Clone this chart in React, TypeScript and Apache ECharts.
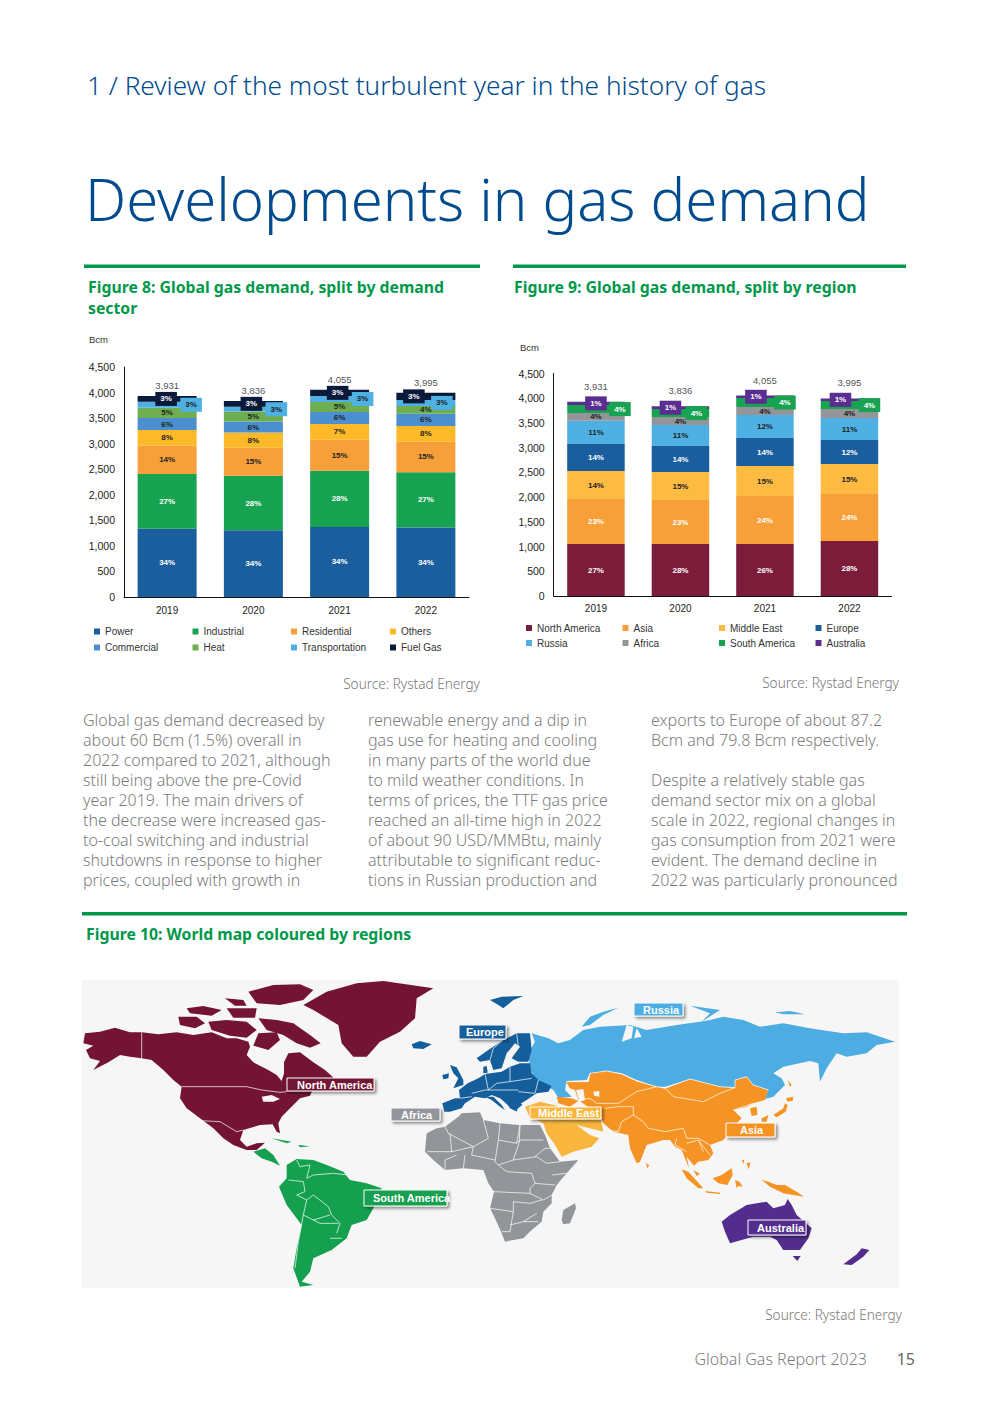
import React, { useEffect, useRef } from "react";
import * as echarts from "echarts";

const years = ["2019", "2020", "2021", "2022"];
const yTicks = [0, 500, 1000, 1500, 2000, 2500, 3000, 3500, 4000, 4500];
const totals = [3931, 3836, 4055, 3995];

const sectorNames = ["Power", "Industrial", "Residential", "Others", "Commercial", "Heat", "Transportation", "Fuel Gas"];
const power = [1337, 1304, 1370, 1358];
const industrial = [1070, 1070, 1100, 1085];
const residential = [550, 548, 605, 595];
const others = [310, 295, 310, 310];
const commercial = [235, 215, 235, 235];
const heat = [200, 195, 195, 155];
const transportation = [118, 95, 118, 118];
const fuelGas = [111, 114, 122, 139];
const sectorValues = [power, industrial, residential, others, commercial, heat, transportation, fuelGas];
const sectorPct = [
  ["34%", "34%", "34%", "34%"], ["27%", "28%", "28%", "27%"], ["14%", "15%", "15%", "15%"], ["8%", "8%", "7%", "8%"],
  ["6%", "6%", "6%", "6%"], ["5%", "5%", "5%", "4%"], ["3%", "3%", "3%", "3%"], ["3%", "3%", "3%", "3%"],
];
const sectorColors = ["#1A5E9E", "#18A353", "#F79F39", "#FDB927", "#4B8FD0", "#6FAD51", "#4FB0E3", "#0B1A3A"];
const sectorLabelColors = ["#fff", "#fff", "#222", "#222", "#222", "#222", "#222", "#fff"];

const regionNames = ["North America", "Asia", "Middle East", "Europe", "Russia", "Africa", "South America", "Australia"];
const northAmerica = [1051, 1051, 1051, 1112];
const asia = [910, 890, 971, 950];
const middleEast = [566, 566, 606, 606];
const europe = [546, 525, 566, 486];
const russia = [471, 425, 465, 444];
const africa = [156, 162, 162, 182];
const southAmerica = [161, 161, 182, 162];
const australia = [70, 56, 52, 53];
const regionValues = [northAmerica, asia, middleEast, europe, russia, africa, southAmerica, australia];
const regionPct = [
  ["27%", "28%", "26%", "28%"], ["23%", "23%", "24%", "24%"], ["14%", "15%", "15%", "15%"], ["14%", "14%", "14%", "12%"],
  ["11%", "11%", "12%", "11%"], ["4%", "4%", "4%", "4%"], ["4%", "4%", "4%", "4%"], ["1%", "1%", "1%", "1%"],
];
const regionColors = ["#7B1C3B", "#F79F39", "#FDBB42", "#1A5E9E", "#4FB0E3", "#939598", "#18A353", "#5A2D91"];
const regionLabelColors = ["#fff", "#fff", "#222", "#fff", "#222", "#222", "#fff", "#fff"];

const col1 = ["Global gas demand decreased by", "about 60 Bcm (1.5%) overall in", "2022 compared to 2021, although", "still being above the pre-Covid", "year 2019. The main drivers of", "the decrease were increased gas-", "to-coal switching and industrial", "shutdowns in response to higher", "prices, coupled with growth in"];
const col2 = ["renewable energy and a dip in", "gas use for heating and cooling", "in many parts of the world due", "to mild weather conditions. In", "terms of prices, the TTF gas price", "reached an all-time high in 2022", "of about 90 USD/MMBtu, mainly", "attributable to significant reduc-", "tions in Russian production and"];
const col3 = ["exports to Europe of about 87.2", "Bcm and 79.8 Bcm respectively.", "", "Despite a relatively stable gas", "demand sector mix on a global", "scale in 2022, regional changes in", "gas consumption from 2021 were", "evident. The demand decline in", "2022 was particularly pronounced"];

const BLUE = "#004B8D";
const GREEN = "#00984A";
const GREY = "#7C7C7C";
const UI = "'Noto Sans', sans-serif";
const AR = "'Liberation Sans', Arial, sans-serif";

// map outlines, traced in crop units (3 units per page pixel) from a crop origin
type Pts = number[][];
const O3 = [80, 975], O4 = [490, 975], O5 = [435, 990], O6 = [420, 1105], O8 = [620, 1080];
const conv = (o: number[], p: Pts) => p.map(([x, y]) => [o[0] + x / 3, o[1] + y / 3]);

const C = { na: "#731434", sa: "#14A04F", eu: "#155E9C", ru: "#4DADE2", as: "#F59324", me: "#F8B63E", af: "#92969A", au: "#532D8E", bg: "#F6F6F6" };

const shapes: [string, number[], Pts][] = [
  [C.na, O3, [[15,175],[60,170],[105,158],[150,172],[185,172],[235,178],[290,172],[340,180],[395,172],[440,190],[470,190],[505,200],[510,215],[500,240],[520,262],[565,285],[590,300],[605,318],[612,295],[612,262],[625,235],[660,232],[700,262],[735,285],[765,312],[735,322],[700,340],[690,362],[660,370],[630,400],[605,425],[595,445],[600,475],[590,470],[578,448],[540,450],[490,465],[480,495],[500,515],[530,505],[555,503],[530,525],[500,525],[460,510],[430,490],[400,460],[360,430],[320,400],[300,370],[305,335],[280,315],[250,285],[215,255],[185,250],[150,245],[120,240],[85,262],[40,285],[60,258],[30,250],[18,225],[40,212],[10,205]]],
  [C.na, O3, [[535,130],[590,135],[640,145],[690,180],[722,205],[690,218],[650,205],[610,180],[560,165]]],
  [C.na, O3, [[385,140],[440,135],[500,140],[530,165],[500,188],[450,182],[395,165]]],
  [C.na, O3, [[295,125],[350,125],[375,145],[345,160],[300,150]]],
  [C.na, O3, [[505,50],[580,30],[660,28],[700,45],[670,75],[600,90],[530,85]]],
  [C.na, O3, [[320,100],[370,93],[425,105],[395,122],[330,115]]],
  [C.na, O3, [[435,70],[490,75],[500,92],[465,92]]],
  [C.na, O3, [[440,100],[530,100],[525,128],[460,128]]],
  [C.na, O3, [[535,175],[590,172],[600,195],[565,225],[520,212]]],
  [C.na, O3, [[670,90],[740,50],[830,25],[910,18],[1060,40],[1010,70],[1005,130],[960,170],[900,200],[860,245],[820,245],[785,205],[775,150],[700,105]]],
  [C.bg, O3, [[545,365],[575,360],[600,372],[580,380],[550,380]]],
  [C.sa, O3, [[520,530],[555,520],[580,540],[600,572],[575,560],[545,550]]],
  [C.sa, O3, [[575,490],[635,500],[620,505]]],
  [C.sa, O3, [[655,510],[690,514],[660,517]]],
  [C.sa, O3, [[620,570],[650,552],[700,555],[740,570],[790,590],[810,615],[860,625],[905,640],[880,700],[860,735],[815,750],[800,790],[755,825],[700,850],[690,890],[665,920],[700,930],[660,935],[640,880],[650,820],[665,750],[620,690],[597,635],[620,610]]],
  [C.eu, O3, [[995,208],[1020,198],[1055,208],[1030,222],[1000,220]]],
  [C.ru, O4, [[125,175],[175,190],[205,205],[240,195],[280,165],[330,155],[420,150],[470,165],[560,150],[630,140],[660,135],[700,125],[760,135],[810,155],[880,145],[960,160],[1060,175],[1130,172],[1215,200],[1160,210],[1130,235],[1070,245],[1040,235],[1010,280],[990,320],[985,265],[960,258],[880,275],[850,295],[875,310],[885,330],[850,365],[825,372],[835,345],[790,330],[770,305],[735,315],[735,338],[690,335],[650,325],[600,312],[560,325],[525,335],[500,335],[440,315],[395,295],[350,288],[300,295],[290,315],[230,318],[225,345],[245,365],[205,368],[190,345],[135,310],[120,280],[115,235],[135,200]]],
  [C.ru, O4, [[275,155],[300,125],[340,110],[385,98],[340,120],[300,150]]],
  [C.ru, O4, [[600,92],[690,105],[635,140],[660,115]]],
  [C.ru, O4, [[855,112],[900,108],[945,118],[880,118]]],
  [C.bg, O4, [[395,200],[410,150],[430,155],[425,190]]],
  [C.bg, O4, [[440,160],[455,185],[432,190]]],
  [C.as, O4, [[228,320],[295,320],[300,295],[350,288],[395,297],[440,318],[500,335],[525,340],[600,312],[650,325],[690,335],[735,338],[735,315],[770,305],[790,330],[835,345],[825,375],[790,385],[770,395],[730,405],[755,430],[740,445],[700,495],[660,510],[670,535],[655,555],[625,560],[612,572],[590,545],[597,580],[575,525],[555,515],[540,495],[520,495],[470,510],[450,560],[440,565],[420,520],[415,480],[370,470],[340,445],[330,420],[300,400],[265,375],[255,345],[240,340]]],
  [C.bg, O4, [[258,345],[280,342],[285,375],[268,380]]],
  [C.bg, O4, [[310,350],[328,348],[328,365],[312,362]]],
  [C.as, O4, [[200,365],[245,370],[265,378],[240,395],[205,385]]],
  [C.me, O4, [[105,395],[150,380],[200,392],[210,415],[120,430]]],
  [C.me, O4, [[130,430],[220,415],[300,400],[330,420],[340,470],[260,450],[200,440],[160,445]]],
  [C.me, O4, [[160,445],[200,440],[260,450],[300,480],[328,490],[305,515],[250,530],[215,545],[195,510],[170,475]]],
  [C.as, O8, [[460,105],[490,85],[495,70],[503,75],[497,95],[470,112]]],
  [C.as, O8, [[498,55],[520,50],[518,62],[503,65]]],
  [C.as, O8, [[503,0],[515,15],[510,20]]],
  [C.as, O8, [[425,115],[445,105],[440,125],[425,125]]],
  [C.as, O8, [[390,85],[410,80],[412,105],[395,108]]],
  [C.as, O8, [[78,250],[88,255],[82,265]]],
  [C.as, O8, [[365,240],[372,240],[372,252]]],
  [C.as, O8, [[380,248],[392,248],[385,268]]],
  [C.as, O8, [[185,268],[205,275],[250,325],[235,325],[200,295]]],
  [C.as, O8, [[255,333],[300,338],[300,342],[260,338]]],
  [C.as, O8, [[278,295],[305,285],[335,265],[338,285],[322,315],[295,310]]],
  [C.as, O8, [[345,300],[358,305],[368,320],[355,318],[350,325]]],
  [C.as, O8, [[220,270],[240,282],[230,288]]],
  [C.as, O8, [[425,300],[445,305],[470,315],[495,315],[530,335],[552,350],[520,345],[490,340],[450,320]]],
  [C.af, O6, [[15,140],[20,85],[50,70],[75,65],[115,35],[125,25],[180,22],[190,45],[240,55],[295,60],[360,60],[375,90],[390,130],[420,170],[475,165],[440,205],[410,240],[395,270],[395,295],[370,320],[365,350],[335,375],[310,400],[255,410],[245,385],[225,340],[210,310],[222,260],[205,235],[190,195],[130,190],[75,195],[40,165]]],
  [C.af, O6, [[425,345],[430,315],[465,295],[468,310],[450,355],[430,358]]],
  [C.eu, O5, [[22,340],[60,325],[75,325],[72,300],[98,280],[130,265],[150,252],[200,245],[225,230],[255,220],[285,220],[290,250],[310,270],[350,288],[340,305],[305,310],[275,330],[250,345],[245,365],[225,350],[195,325],[170,315],[150,325],[120,320],[90,340],[80,355],[45,365],[28,365]]],
  [C.eu, O5, [[150,320],[175,320],[200,345],[210,360],[195,350],[170,330]]],
  [C.eu, O5, [[205,325],[250,330],[262,345],[240,362],[225,355]]],
  [C.eu, O5, [[125,205],[160,180],[205,150],[245,130],[285,130],[290,180],[280,215],[250,215],[230,205],[255,170],[240,160],[215,190],[200,235],[175,240],[165,210],[135,215]]],
  [C.eu, O5, [[145,230],[155,228],[158,248],[145,250]]],
  [C.eu, O5, [[45,225],[65,232],[85,270],[85,285],[55,295],[70,265],[55,250]]],
  [C.eu, O5, [[22,255],[42,250],[40,265],[25,268]]],
  [C.eu, O5, [[165,30],[200,20],[265,18],[235,30],[205,55],[190,45]]],
  [C.au, O4, [[695,740],[720,720],[770,690],[830,680],[850,700],[885,690],[893,672],[905,690],[920,720],[965,760],[955,790],[930,825],[880,825],[860,795],[840,785],[790,785],[720,805],[705,770]]],
  [C.au, O4, [[908,843],[932,843],[922,858]]],
  [C.au, O4, [[1060,868],[1100,838],[1115,820],[1138,825],[1120,845],[1085,870]]],
];

const borders: [number[], Pts][] = [
  [O3, [[185,172],[185,250]]],
  [O3, [[305,335],[500,335],[545,345],[600,352],[620,350]]],
  [O3, [[360,437],[420,440],[470,470],[490,465]]],
  [O3, [[650,555],[660,575],[690,570],[680,610],[700,600],[760,595],[805,600]]],
  [O3, [[625,615],[670,620],[675,650],[650,660],[680,675],[700,660],[745,695],[755,720],[780,745],[770,775]]],
  [O3, [[680,675],[670,720],[700,735],[750,720]]],
  [O3, [[670,720],[655,800],[645,880]]],
  [O3, [[700,735],[720,745],[775,745]]],
  [O3, [[750,790],[785,790]]],
  [O6, [[90,85],[95,140],[160,125],[205,100],[190,45]]],
  [O6, [[75,65],[85,85],[160,125]]],
  [O6, [[240,55],[235,105],[290,115],[300,60]]],
  [O6, [[300,60],[298,105],[370,105]]],
  [O6, [[290,115],[300,105],[280,165],[235,180]]],
  [O6, [[235,105],[225,170],[235,180]]],
  [O6, [[95,140],[22,140]]],
  [O6, [[160,125],[155,150],[225,165]]],
  [O6, [[130,190],[135,150]]],
  [O6, [[75,195],[75,165],[110,150]]],
  [O6, [[235,180],[260,200],[335,205],[345,235],[330,250],[330,265],[220,260]]],
  [O6, [[280,165],[350,155],[380,175],[420,170]]],
  [O6, [[345,155],[375,130],[390,130]]],
  [O6, [[395,210],[440,205]]],
  [O6, [[345,235],[405,240]]],
  [O6, [[210,310],[280,320],[280,290],[330,295],[365,285]]],
  [O6, [[330,265],[370,285],[395,270]]],
  [O6, [[280,320],[270,380],[245,380]]],
  [O6, [[270,360],[310,350],[350,325]]],
  [O6, [[310,350],[355,350]]],
  [O4, [[228,320],[295,320],[300,295],[350,288],[395,297],[440,318],[500,335],[525,340],[600,312],[650,325],[690,335],[735,338],[735,315],[770,305],[790,330],[835,345]]],
  [O4, [[265,375],[300,370],[320,385],[385,385],[440,350],[500,335]]],
  [O4, [[525,340],[550,365],[640,380],[690,355],[735,338]]],
  [O4, [[345,400],[385,395],[430,395],[430,420],[395,440],[385,470],[350,465]]],
  [O4, [[330,420],[345,470]]],
  [O4, [[430,420],[460,440],[475,460],[525,470],[580,460],[590,490],[625,490],[660,510]]],
  [O4, [[560,490],[555,510],[590,530]]],
  [O4, [[590,505],[625,495],[640,530]]],
  [O4, [[625,495],[660,540]]],
  [O4, [[730,405],[790,385]]],
  [O5, [[150,252],[160,300],[185,280],[225,275],[290,265]]],
  [O5, [[225,230],[225,275]]],
  [O5, [[250,305],[300,310],[310,270]]],
  [O5, [[110,310],[150,300],[250,300]]],
  [O5, [[75,325],[110,320]]],
  [O5, [[205,150],[175,175],[165,210]]],
  [O5, [[245,130],[250,170]]],
];

const mapLabels: [string, number, number, number, number, string, number][] = [
  ["Europe", 459, 1025, 47, 14, C.eu, 466],
  ["Russia", 634, 1003, 49, 13, C.ru, 643],
  ["North America", 287, 1078, 87, 13, C.na, 297],
  ["Africa", 391, 1108, 49, 13, C.af, 401],
  ["Middle East", 530, 1107, 71, 12, C.me, 538],
  ["Asia", 726, 1123, 49, 14, C.as, 740],
  ["South America", 364, 1190, 83, 16, C.sa, 373],
  ["Australia", 748, 1220, 58, 15, C.au, 757],
];

const sectorOffsets: Record<number, number[][]> = {
  6: [[24, 0], [23, 0], [23, 0], [16, 0]],
  7: [[-1, 0], [-2, 0], [-2, 0], [-12, 0]],
};
const regionOffsets: Record<number, number[][]> = {
  6: [[24, 0], [16, 0], [20, 0], [20, 0]],
  7: [[0, 0], [-10, 0], [-9, 0], [-9, 0]],
};

function barSeries(names: string[], values: number[][], pct: string[][], colors: string[], lblColors: string[], offsets: Record<number, number[][]>, axis: number, width: number, stack: string) {
  return names.map((name, s) => ({
    type: "bar",
    name,
    stack,
    xAxisIndex: axis,
    yAxisIndex: axis,
    barWidth: width,
    itemStyle: { color: colors[s] },
    data: values[s].map((v, i) => {
      const off = offsets[s];
      return {
        value: v,
        label: {
          show: true,
          position: "inside",
          formatter: pct[s][i],
          color: lblColors[s],
          fontSize: 8,
          fontWeight: "bold",
          fontFamily: AR,
          ...(off ? { offset: off[i], backgroundColor: colors[s], padding: [3, 5] } : {}),
        },
      };
    }),
  }));
}

function totalSeries(axis: number, dist: number) {
  return {
    type: "scatter",
    name: "Total",
    xAxisIndex: axis,
    yAxisIndex: axis,
    data: totals,
    symbol: "circle",
    symbolSize: 1,
    itemStyle: { color: "rgba(0,0,0,0)" },
    z: 5,
    label: { show: true, position: "top", distance: dist, fontSize: 9.5, color: "#222", fontFamily: AR, formatter: (p: any) => p.value.toLocaleString("en-US") },
  };
}

function legends(names: string[], xs: number[], ys: number[]) {
  return names.map((n, i) => ({
    data: [n],
    left: xs[i % 4],
    top: ys[Math.floor(i / 4)],
    itemWidth: 6,
    itemHeight: 6,
    padding: 0,
    icon: "rect",
    selectedMode: false,
    textStyle: { fontSize: 10, color: "#333", fontFamily: AR },
  }));
}

function txt(text: string, x: number, y: number, font: string, fill: string, align = "left") {
  return { type: "text", x, y, silent: true, style: { text, font, fill, textAlign: align, textVerticalAlign: "middle" } };
}

export default function App() {
  const ref = useRef<HTMLDivElement>(null);
  useEffect(() => {
    const chart = echarts.init(ref.current!, undefined, { renderer: "svg" });
    const g: any[] = [];
    g.push(txt("1 / Review of the most turbulent year in the history of gas", 87, 85, `300 26.2px ${UI}`, BLUE));
    g.push(txt("Developments in gas demand", 85, 198, `300 58px ${UI}`, BLUE));
    const rule = (x: number, y: number, w: number, h: number) => ({ type: "rect", silent: true, shape: { x, y, width: w, height: h }, style: { fill: GREEN } });
    g.push(rule(84, 264.5, 396, 3.5), rule(513, 264.5, 393, 3.5), rule(82, 912, 825, 3.5));
    const cap = `bold 15.8px ${UI}`;
    g.push(txt("Figure 8: Global gas demand, split by demand", 88, 287, cap, GREEN));
    g.push(txt("sector", 88, 308, cap, GREEN));
    g.push(txt("Figure 9: Global gas demand, split by region", 514, 287, cap, GREEN));
    g.push(txt("Figure 10: World map coloured by regions", 86, 934, cap, GREEN));
    g.push(txt("Bcm", 89, 339.5, `9.5px ${AR}`, "#333"));
    g.push(txt("Bcm", 520, 347, `9.5px ${AR}`, "#333"));
    const src = `300 13.6px ${UI}`;
    g.push(txt("Source: Rystad Energy", 480, 683, src, "#777", "right"));
    g.push(txt("Source: Rystad Energy", 899, 682, src, "#777", "right"));
    g.push(txt("Source: Rystad Energy", 902, 1314, src, "#777", "right"));
    const body = `300 16px ${UI}`;
    [[col1, 83], [col2, 368], [col3, 651]].forEach(([lines, x]: any) => {
      lines.forEach((l: string, i: number) => { if (l) g.push(txt(l, x, 720 + i * 20, body, GREY)); });
    });
    g.push(txt("Global Gas Report 2023", 867, 1359, `300 16px ${UI}`, GREY, "right"));
    g.push(txt("15", 915, 1359, `16px ${UI}`, "#666", "right"));

    g.push({ type: "rect", silent: true, shape: { x: 82, y: 980, width: 817, height: 308 }, style: { fill: C.bg } });
    shapes.forEach(([fill, o, p]) => g.push({ type: "polygon", silent: true, shape: { points: conv(o, p) }, style: { fill } }));
    borders.forEach(([o, p]) => g.push({ type: "polyline", silent: true, shape: { points: conv(o, p) }, style: { stroke: "#fff", lineWidth: 0.7, fill: "none" } }));
    mapLabels.forEach(([t, x, y, w, h, fill, tx]) => {
      g.push({ type: "rect", silent: true, shape: { x, y, width: w, height: h }, style: { fill, stroke: "#fff", lineWidth: 1, shadowColor: "rgba(0,0,0,0.45)", shadowBlur: 3, shadowOffsetX: 2, shadowOffsetY: 2 } });
      g.push(txt(t, tx, y + h / 2, `bold 11px ${AR}`, "#fff"));
    });

    const xAxis = (idx: number) => ({
      type: "category", gridIndex: idx, data: years,
      axisLine: { lineStyle: { color: "#111", width: 1 } }, axisTick: { show: false },
      axisLabel: { fontSize: 10, color: "#222", fontFamily: AR, margin: idx === 0 ? 8 : 7 },
    });
    const yAxis = (idx: number) => ({
      type: "value", gridIndex: idx, min: yTicks[0], max: yTicks[yTicks.length - 1], interval: 500,
      splitLine: { show: false }, axisLine: { show: true, lineStyle: { color: "#111", width: 1 } }, axisTick: { show: false },
      axisLabel: { fontSize: 10.5, color: "#222", fontFamily: AR, margin: 9, formatter: (v: number) => v.toLocaleString("en-US") },
    });

    chart.setOption({
      animation: false,
      backgroundColor: "#fff",
      graphic: { elements: g },
      grid: [
        { left: 124, top: 367, width: 345, height: 230 },
        { left: 553.7, top: 373.5, width: 338, height: 222.5 },
      ],
      xAxis: [xAxis(0), xAxis(1)],
      yAxis: [yAxis(0), yAxis(1)],
      legend: [
        ...legends(sectorNames, [94, 192.5, 291, 390], [626.5, 642.5]),
        ...legends(regionNames, [526, 622.5, 719, 815.5], [623, 638]),
      ],
      series: [
        ...barSeries(sectorNames, sectorValues, sectorPct, sectorColors, sectorLabelColors, sectorOffsets, 0, 59, "a"),
        totalSeries(0, 5),
        ...barSeries(regionNames, regionValues, regionPct, regionColors, regionLabelColors, regionOffsets, 1, 57.5, "b"),
        totalSeries(1, 10),
      ],
    });
    return () => chart.dispose();
  }, []);
  return <div ref={ref} style={{ position: "absolute", left: 0, top: 0, width: 987, height: 1403, background: "#fff" }} />;
}
